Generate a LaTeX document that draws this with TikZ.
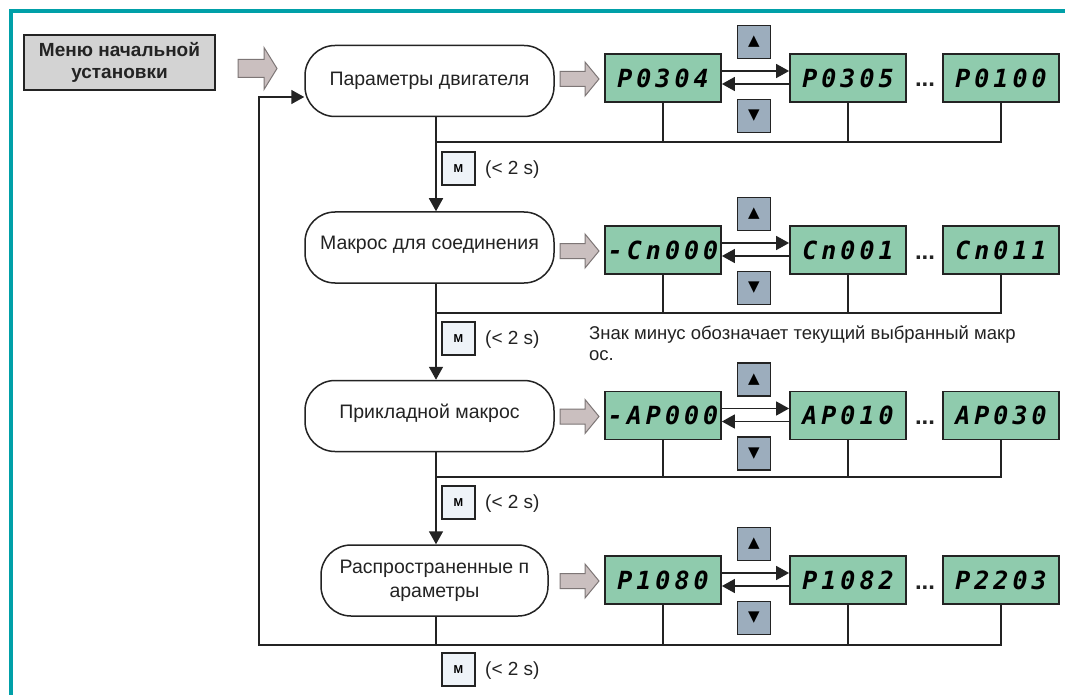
\documentclass[tikz,border=0pt]{standalone}
\usepackage{fontspec}
\setmainfont{Liberation Sans}
\newfontfamily\lcdfont{DejaVu Sans Mono}[LetterSpace=16]
\newfontfamily\symfont{DejaVu Sans}
\usetikzlibrary{arrows.meta,calc}
\definecolor{tealc}{RGB}{0,160,168}
\definecolor{linec}{RGB}{35,35,35}
\definecolor{lcdgreen}{RGB}{143,203,173}
\definecolor{btnblue}{RGB}{156,173,189}
\definecolor{mblue}{RGB}{238,243,248}
\definecolor{titlegray}{RGB}{211,211,211}
\definecolor{garrfill}{RGB}{202,191,191}
\definecolor{garrdraw}{RGB}{125,118,118}
\newcommand\garr[6]{\draw[garr] ({#1},{#2-#4}) -- ({#1+#3-#6},{#2-#4}) -- ({#1+#3-#6},{#2-#5}) -- ({#1+#3},{#2}) -- ({#1+#3-#6},{#2+#5}) -- ({#1+#3-#6},{#2+#4}) -- ({#1},{#2+#4}) -- cycle;}
\begin{document}
\begin{tikzpicture}[x=1pt,y=-1pt,
  every node/.style={font=\fontsize{19}{22}\selectfont, text=linec},
  titlebox/.style={draw=linec, fill=titlegray, line width=1.8pt, minimum width=191pt, minimum height=55pt, inner sep=0pt, align=center, font=\bfseries\fontsize{19}{22}\selectfont},
  stad/.style={draw=linec, fill=white, line width=1.5pt, rounded corners=30pt, minimum width=249pt, minimum height=71pt, inner sep=0pt, align=center, font=\fontsize{19.5}{24}\selectfont},
  lcd/.style={draw=linec, fill=lcdgreen, line width=1.8pt, minimum width=116pt, minimum height=48pt, inner sep=0pt, font=\lcdfont\bfseries\itshape\fontsize{25}{25}\selectfont, text=black},
  btn/.style={draw=linec, fill=btnblue, line width=1.5pt, minimum width=33pt, minimum height=33pt, inner sep=0pt, font=\symfont\fontsize{15}{15}\selectfont, text=black},
  mbtn/.style={draw=linec, fill=mblue, line width=1.5pt, minimum width=33pt, minimum height=33pt, inner sep=0pt, font=\bfseries\fontsize{11.5}{12}\selectfont, text=black},
  conn/.style={draw=linec, line width=1.6pt},
  tip/.style={-{Triangle[length=13pt,width=14pt]}},
  garr/.style={fill=garrfill, draw=garrdraw, line width=1pt, line join=miter},
  dots/.style={anchor=base, inner sep=0pt, font=\bfseries\fontsize{24}{24}\selectfont}
]
\useasboundingbox (0,0) rectangle (1065,695);
\fill[white] (0,0) rectangle (1065,695);
\draw[tealc, line width=3.5pt] (11,695) -- (11,11) -- (1066,11);

\node[titlebox] (menu) at (119.5,62.5) {Меню начальной\\установки};
\garr{238}{68.5}{39}{9}{21}{13}

\node[stad] (s1) at (429.5,81) {Параметры двигателя};
\node[stad] (s2) at (429.5,247.5) {\raisebox{10pt}{Макрос для соединения}};
\node[stad] (s3) at (429.5,416) {\raisebox{10pt}{Прикладной макрос}};
\node[stad, minimum width=227pt] (s4) at (434.5,580.5) {Распространенные п\\араметры};

\coordinate (v) at (436,0);

\foreach \r/\y/\h/\m/\a/\b/\c in {1/78/142/168.5/P0304/P0305/P0100, 2/250/313/338.5/-Cn000/Cn001/Cn011, 3/415.5/477/502.5/-AP000/AP010/AP030, 4/580/645/669.5/P1080/P1082/P2203}{
  \garr{560}{\y+1}{39}{7.5}{17}{14}
  \node[lcd] (l\r a) at (663,\y) {\a};
  \node[lcd] (l\r b) at (848,\y) {\b};
  \node[lcd] (l\r c) at (1001,\y) {\c};
  \node[btn] (up\r) at (754,\y-36) {▲};
  \node[btn] (dn\r) at (754,\y+38) {▼};
  \draw[conn, tip] ([yshift=7pt]l\r a.east) -- ([yshift=7pt]l\r b.west);
  \draw[conn, tip] ([yshift=-6pt]l\r b.west) -- ([yshift=-6pt]l\r a.east);
  \node[dots] (d\r) at (925,\y+9) {...};
  \coordinate (h\r) at (436,\h);
  \draw[conn] (l\r a.south) -- (l\r a.south |- h\r);
  \draw[conn] (l\r b.south) -- (l\r b.south |- h\r);
  \draw[conn] (l\r c.south) |- (h\r);
  \node[mbtn] (m\r) at (458.5,\m) {M};
  \node[anchor=west, inner sep=0pt] (t\r) at (485,\m+1) {(< 2 s)};
}

\draw[conn, tip] (s1.south -| v) -- (s2.north -| v);
\draw[conn, tip] (s2.south -| v) -- (s3.north -| v);
\draw[conn, tip] (s3.south -| v) -- (s4.north -| v);
\draw[conn] (s4.south -| v) -- (h4);

\coordinate (fb1) at (259,645);
\coordinate (fb2) at (259,97);
\draw[conn, tip] (h4) -- (fb1) -- (fb2) -- (s1.west |- fb2);

\node[anchor=north west, inner sep=0pt, align=left, font=\fontsize{18.5}{21}\selectfont] (note) at (589,326) {Знак минус обозначает текущий выбранный макр\\ос.};
\end{tikzpicture}
\end{document}
